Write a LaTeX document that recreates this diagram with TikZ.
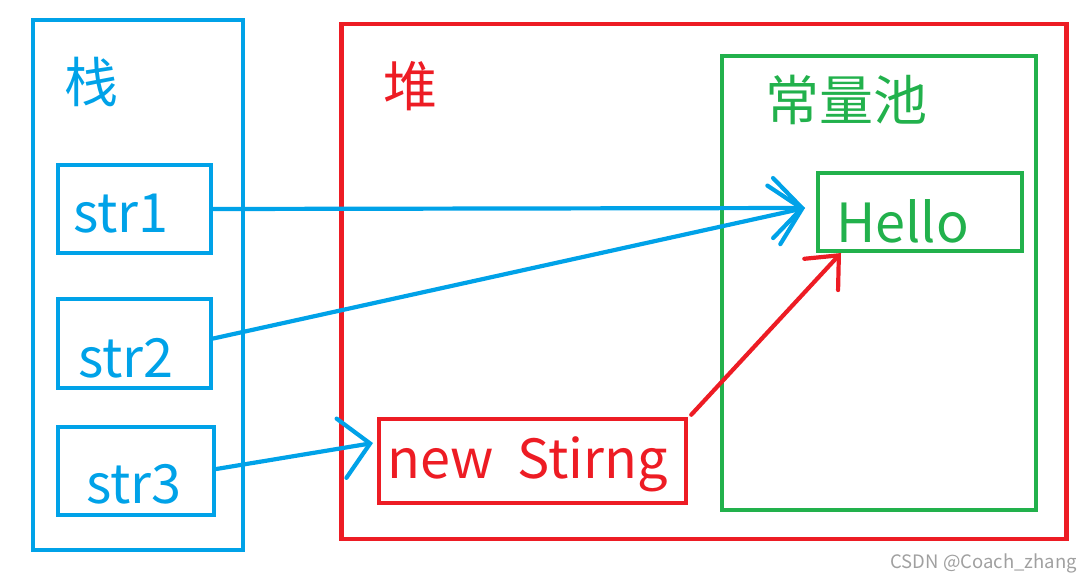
\documentclass[tikz,border=0pt]{standalone}
\usepackage{fontspec}
\setmainfont{Noto Sans CJK SC}
\usetikzlibrary{arrows.meta}
\definecolor{pblue}{RGB}{0,162,232}
\definecolor{pred}{RGB}{237,28,36}
\definecolor{pgreen}{RGB}{34,177,76}
\definecolor{wm}{RGB}{160,160,160}
\tikzset{
  box/.style={draw=#1, line width=4.5pt, inner sep=0pt},
  lbl/.style={text=#1, inner sep=0pt, anchor=base west, font=\fontsize{54}{60}\selectfont},
  bluearrow/.style={draw=pblue, line width=4.2pt, line cap=round, -{Straight Barb[length=29pt, width=60pt, line cap=round]}},
  redarrow/.style={draw=pred, line width=4.2pt, line cap=round, -{Straight Barb[length=26pt, width=46pt, line cap=round]}},
}
\begin{document}
\begin{tikzpicture}[x=1pt,y=-1pt]
\useasboundingbox (0,0) rectangle (1091,581);
% stack
\node[box=pblue, minimum width=210pt, minimum height=530pt] (stack) at (138,285) {};
\node[lbl=pblue] (stackl) at (64,102) {栈};
\node[box=pblue, minimum width=153pt, minimum height=88pt] (s1) at (134.5,209) {};
\node[box=pblue, minimum width=153pt, minimum height=89pt] (s2) at (134.5,343.5) {};
\node[box=pblue, minimum width=156pt, minimum height=88pt] (s3) at (136,471) {};
\node[lbl=pblue] (s1l) at (73,232) {str1};
\node[lbl=pblue] (s2l) at (78,377) {str2};
\node[lbl=pblue] (s3l) at (86,503) {str3};
% heap
\node[box=pred, minimum width=725pt, minimum height=515pt] (heap) at (704,281.5) {};
\node[lbl=pred] (heapl) at (383,106) {堆};
\node[box=pred, minimum width=307pt, minimum height=84pt] (ns) at (532.5,461) {};
\node[lbl=pred] (nsl) at (387,478) {new\ \ Stirng};
% pool
\node[box=pgreen, minimum width=314pt, minimum height=454pt] (pool) at (879,283) {};
\node[lbl=pgreen] (pooll) at (765,120) {常量池};
\node[box=pgreen, minimum width=204pt, minimum height=78pt] (hello) at (920,212) {};
\node[lbl=pgreen] (hellol) at (836,242) {Hello};
% arrows
\coordinate (tipH) at (805,208);
\coordinate (tipN) at (373,443);
\coordinate (tipR) at (841,253);
\draw[bluearrow] (s1.east) -- (tipH);
\draw[bluearrow] ([yshift=5pt]s2.east) -- (tipH);
\draw[bluearrow] ([yshift=2pt]s3.east) -- (tipN);
\draw[redarrow] ([xshift=3pt,yshift=2pt]ns.north east) -- (tipR);
% watermark
\node[text=wm, inner sep=0pt, anchor=base east, font=\fontsize{18.5}{22}\selectfont] (wmark) at (1077,568) {CSDN @Coach\_zhang};
\end{tikzpicture}
\end{document}
